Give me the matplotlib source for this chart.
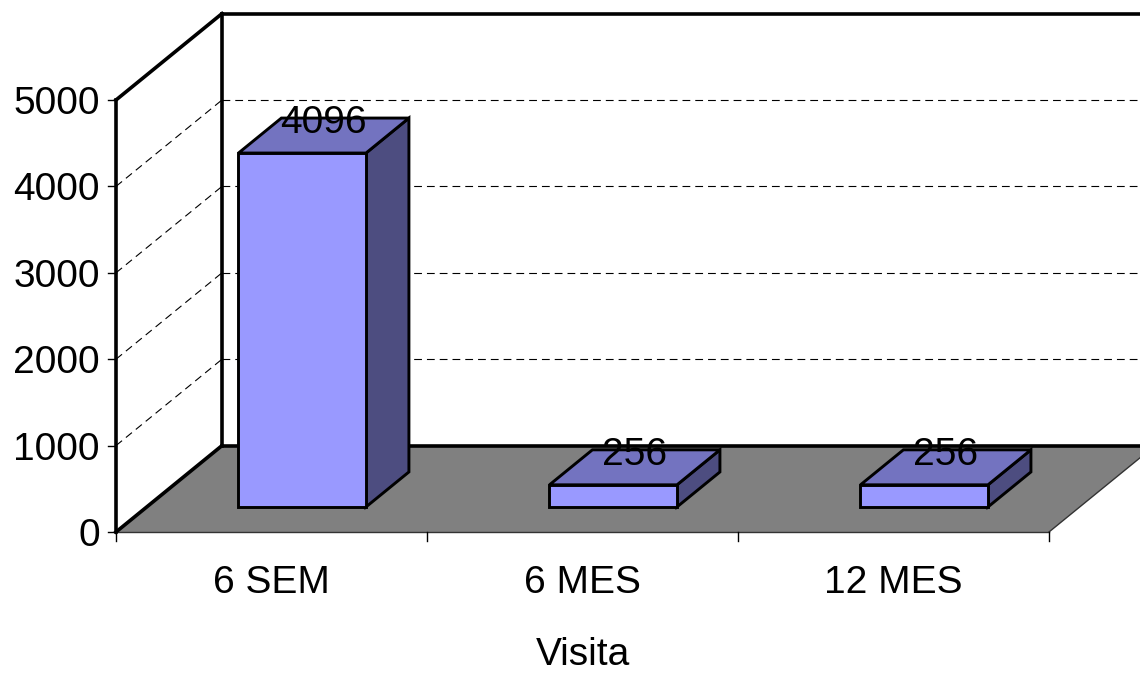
import matplotlib
matplotlib.use("Agg")
import matplotlib.pyplot as plt
from matplotlib.patches import Polygon

plt.rcParams['font.family'] = ['Liberation Sans', 'DejaVu Sans']

categories = ["6 SEM", "6 MES", "12 MES"]
values = [4096, 256, 256]
yticks = [0, 1000, 2000, 3000, 4000, 5000]
xlabel = "Visita"

# projection of depth (z in [0,1]) onto the 2D plane, in data units
DX = 106 / 311.0
DY = 1000.0
PXV = 0.0864          # pixels per value unit
PXC = 311.0           # pixels per category unit
ymax = 5000
n = len(categories)
FS = 28

def P(x, v, z):
    return (x + z * DX, v + z * DY)

fig = plt.figure(figsize=(11.4, 6.73), dpi=100)
ax = fig.add_axes([0, 0, 1, 1])
ax.set_xlim(-116 / PXC, (1140 - 116) / PXC)
ax.set_ylim(-141 / PXV, 532 / PXV)
ax.axis('off')

thick = 2.6
dash = (0, (7, 4.5))

# back wall gridlines
for v in yticks[1:-1]:
    ax.plot([DX, n + DX + 0.2], [v + DY, v + DY], color='black', lw=0.8,
            linestyle=dash, zorder=1)
    # side wall diagonals
    ax.plot([0, DX], [v, v + DY], color='black', lw=0.8, linestyle=dash, zorder=1)

# floor
floor = Polygon([P(0, 0, 0), P(n, 0, 0), P(n, 0, 1), P(0, 0, 1)],
                closed=True, facecolor='#808080', edgecolor='none', zorder=2)
ax.add_patch(floor)
ax.plot([0, n], [0, 0], color='#333333', lw=1.0, zorder=3)
ax.plot([n, n + DX], [0, DY], color='#333333', lw=1.0, zorder=3)

# back wall frame
ax.plot([DX, n + DX + 0.2], [DY, DY], color='black', lw=thick, zorder=3)
ax.plot([DX, n + DX + 0.2], [ymax + DY, ymax + DY], color='black', lw=thick, zorder=3)
ax.plot([DX, DX], [DY, ymax + DY], color='black', lw=thick, zorder=3)
# side wall frame
ax.plot([0, DX], [0, DY], color='black', lw=thick, zorder=3)
ax.plot([0, DX], [ymax, ymax + DY], color='black', lw=thick, zorder=3)
ax.plot([0, 0], [0, ymax], color='black', lw=thick, zorder=3)

# y ticks and labels
for v in yticks:
    ax.plot([-8 / PXC, 0], [v, v], color='black', lw=1.0, zorder=3)
    ax.text(-16 / PXC, v - 14 / PXV, f"{v}", ha='right', va='baseline',
            fontsize=FS, zorder=5)

# x ticks and labels
for i in range(n + 1):
    ax.plot([i, i], [0, -9 / PXV], color='black', lw=1.0, zorder=3)
for i, c in enumerate(categories):
    ax.text(i + 0.5, -61 / PXV, c, ha='center', va='baseline', fontsize=FS, zorder=5)
ax.text(n / 2, -133 / PXV, xlabel, ha='center', va='baseline', fontsize=FS, zorder=5)

# bars
z0, z1 = 0.29, 0.695
w = 0.41
front_c, top_c, side_c = '#9999FF', '#7373C0', '#4D4D80'
for i, v in enumerate(values):
    x0 = i + 0.5 - w / 2
    x1 = i + 0.5 + w / 2
    front = Polygon([P(x0, 0, z0), P(x1, 0, z0), P(x1, v, z0), P(x0, v, z0)],
                    facecolor=front_c, edgecolor='black', lw=2.1, zorder=6,
                    joinstyle='miter')
    side = Polygon([P(x1, 0, z0), P(x1, 0, z1), P(x1, v, z1), P(x1, v, z0)],
                   facecolor=side_c, edgecolor='black', lw=2.1, zorder=6,
                   joinstyle='miter')
    top = Polygon([P(x0, v, z0), P(x1, v, z0), P(x1, v, z1), P(x0, v, z1)],
                  facecolor=top_c, edgecolor='black', lw=2.1, zorder=6,
                  joinstyle='miter')
    for p in (side, top, front):
        ax.add_patch(p)
    zm = (z0 + z1) / 2
    ax.text(i + 0.5 + zm * DX, v + z1 * DY - 15 / PXV, f"{v}", ha='center',
            va='baseline', fontsize=FS, zorder=7)

fig.savefig("out.png", dpi=100)
